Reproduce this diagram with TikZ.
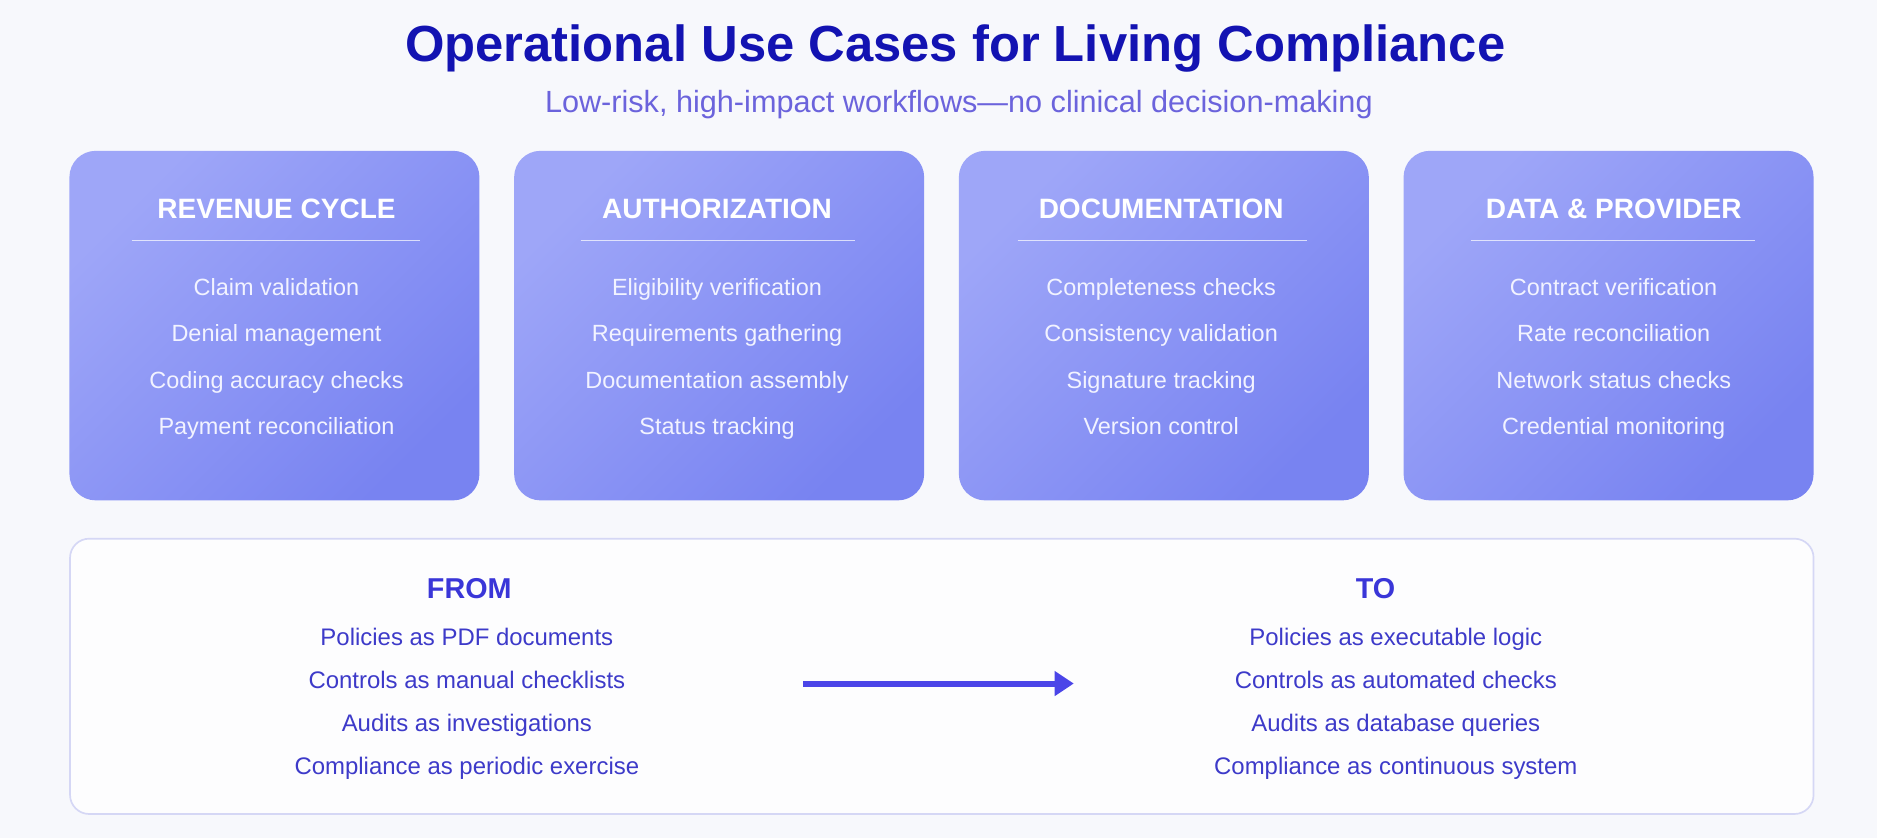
\documentclass[tikz,border=0pt]{standalone}
\usepackage{fontspec}
\setmainfont{Liberation Sans}
\usetikzlibrary{arrows.meta}

\definecolor{pagebg}{HTML}{F7F8FC}
\definecolor{titleblue}{HTML}{1313B2}
\definecolor{subviolet}{HTML}{6B63DC}
\definecolor{cardlight}{HTML}{9EA6F8}
\definecolor{carddark}{HTML}{7883F1}
\definecolor{cardtext}{HTML}{F2F3FF}
\definecolor{panelline}{HTML}{D5D7F5}
\definecolor{shiftblue}{HTML}{3A36D8}
\definecolor{shifttext}{HTML}{3D3AC9}
\definecolor{arrowblue}{HTML}{4B45E8}

\begin{document}
\begin{tikzpicture}[x=0.5pt,y=-0.5pt,
  txt/.style={inner sep=0pt, text depth=0pt},
  card/.style={rounded corners=11pt, minimum width=171.25pt, minimum height=146pt, inner sep=0pt,
    top color=cardlight, bottom color=carddark, shading angle=45},
  cardhead/.style={txt, text height=8.4pt, text=white, font=\fontsize{11.7}{14}\selectfont\bfseries},
  carditem/.style={txt, text height=7pt, text=cardtext, font=\fontsize{9.8}{12}\selectfont},
  cardrule/.style={white, opacity=0.7, line width=0.6pt},
  panel/.style={rounded corners=8pt, draw=panelline, line width=0.7pt, fill=white!70!pagebg,
    minimum width=728.25pt, minimum height=115pt, inner sep=0pt},
  shifthead/.style={txt, text height=8.6pt, text=shiftblue, font=\fontsize{12}{14}\selectfont\bfseries},
  shiftitem/.style={txt, text height=7.2pt, text=shifttext, font=\fontsize{10}{12}\selectfont},
  flow/.style={arrowblue, line width=2.5pt, -{Triangle[length=8pt,width=10pt]}}]

\fill[pagebg] (0,0) rectangle (1568,700);
\useasboundingbox (0,0) rectangle (1568,700);

% title
\node[txt, text height=15.2pt, text=titleblue, font=\fontsize{21.2}{26}\selectfont\bfseries] (title) at (798,36) {Operational Use Cases for Living Compliance};
\node[txt, text height=9.2pt, text=subviolet, font=\fontsize{12.8}{15}\selectfont] (subtitle) at (801,85) {Low-risk, high-impact workflows—no clinical decision-making};

% use case cards
\node[card] (revcard) at (229.25,272) {};
\node[card] (authcard) at (600.75,272) {};
\node[card] (doccard) at (972.25,272) {};
\node[card] (datacard) at (1343.75,272) {};

\node[cardhead] (revhead) at (231,174) {REVENUE CYCLE};
\draw[cardrule] (110,201) -- (351,201);
\foreach \t [count=\i] in {Claim validation, Denial management, Coding accuracy checks, Payment reconciliation}
  \node[carditem] (rev\i) at (231,{201+38.8*\i}) {\t};

\node[cardhead] (authhead) at (599,174) {AUTHORIZATION};
\draw[cardrule] (485,201) -- (714,201);
\foreach \t [count=\i] in {Eligibility verification, Requirements gathering, Documentation assembly, Status tracking}
  \node[carditem] (auth\i) at (599,{201+38.8*\i}) {\t};

\node[cardhead] (dochead) at (970,174) {DOCUMENTATION};
\draw[cardrule] (850,201) -- (1092,201);
\foreach \t [count=\i] in {Completeness checks, Consistency validation, Signature tracking, Version control}
  \node[carditem] (doc\i) at (970,{201+38.8*\i}) {\t};

\node[cardhead] (datahead) at (1348,174) {DATA \& PROVIDER};
\draw[cardrule] (1229,201) -- (1466,201);
\foreach \t [count=\i] in {Contract verification, Rate reconciliation, Network status checks, Credential monitoring}
  \node[carditem] (data\i) at (1348,{201+38.8*\i}) {\t};

% from / to panel
\node[panel] (shift) at (786.75,565) {};

\node[shifthead] (fromhead) at (392,491) {FROM};
\foreach \t [count=\i] in {Policies as PDF documents, Controls as manual checklists, Audits as investigations, Compliance as periodic exercise}
  \node[shiftitem] (from\i) at (390,{496+36*\i}) {\t};

\node[shifthead] (tohead) at (1149,491) {TO};
\foreach \t [count=\i] in {Policies as executable logic, Controls as automated checks, Audits as database queries, Compliance as continuous system}
  \node[shiftitem] (to\i) at (1166,{496+36*\i}) {\t};

\coordinate (arrowstart) at (671,571);
\coordinate (arrowend) at (897,571);
\draw[flow] (arrowstart) -- (arrowend);
\end{tikzpicture}
\end{document}
